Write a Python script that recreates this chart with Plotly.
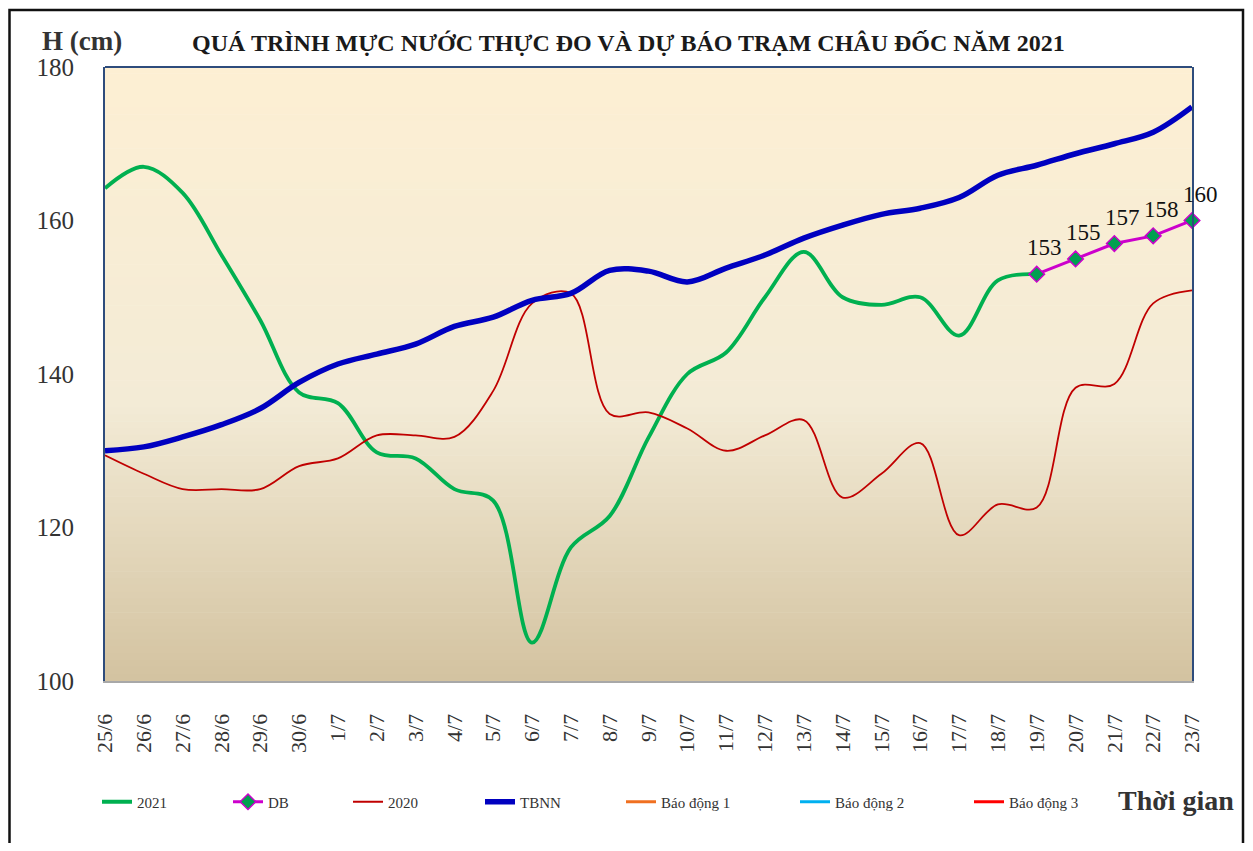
import plotly.graph_objects as go

dates = ["25/6", "26/6", "27/6", "28/6", "29/6", "30/6", "1/7", "2/7", "3/7", "4/7",
         "5/7", "6/7", "7/7", "8/7", "9/7", "10/7", "11/7", "12/7", "13/7", "14/7",
         "15/7", "16/7", "17/7", "18/7", "19/7", "20/7", "21/7", "22/7", "23/7"]

h2021 = [164.2, 167.0, 163.6, 155.5, 147.0, 137.6, 136.2, 129.8, 129.0, 125.0,
         123.5, 105.0, 117.4, 121.5, 131.7, 140.0, 142.8, 150.0, 155.9, 150.0,
         149.0, 150.0, 145.0, 152.2, 153.0, None, None, None, None]

db = [None] * 24 + [153, 155, 157, 158, 160]

h2020 = [129.4, 127.0, 125.0, 125.0, 125.0, 128.0, 129.0, 132.0, 132.0, 131.8,
         137.8, 149.2, 150.5, 134.8, 135.0, 132.9, 130.0, 132.0, 134.0, 123.9,
         127.0, 131.0, 119.0, 123.0, 122.6, 138.2, 138.7, 149.2, 150.9]

tbnn = [130.0, 130.5, 131.8, 133.4, 135.5, 138.9, 141.3, 142.6, 143.9, 146.2,
        147.4, 149.6, 150.5, 153.5, 153.4, 152.0, 153.8, 155.5, 157.7, 159.4,
        160.8, 161.6, 163.0, 165.9, 167.2, 168.7, 170.0, 171.5, 174.8]

# Alarm levels at Chau Doc (off the visible scale)
bd1 = [350] * len(dates)
bd2 = [400] * len(dates)
bd3 = [450] * len(dates)

SERIF = "Liberation Serif"

# page has an 8px body margin; work in screen pixels of the 1253x851 window
OFF = 8
PLOT_L, PLOT_R, PLOT_T, PLOT_B = 105, 1192, 67, 681
PW, PH = PLOT_R - PLOT_L, PLOT_B - PLOT_T
W, H = 1253 - 2 * OFF, 851 - 2 * OFF
L, T = PLOT_L - OFF, PLOT_T - OFF
R = W - L - PW
B = H - T - PH


def px_x(px):
    return (px - PLOT_L) / PW


def px_y(py):
    return (PLOT_B - py) / PH


fig = go.Figure()

fig.add_trace(go.Scatter(x=dates, y=h2021, name="2021", mode="lines",
                         line=dict(color="#00B050", width=3.8, shape="spline", smoothing=1),
                         legend="legend2"))
fig.add_trace(go.Scatter(x=dates, y=db, name="DB", mode="lines+markers",
                         line=dict(color="#CC00CC", width=3),
                         marker=dict(symbol="diamond", size=12, color="#00A050",
                                     line=dict(color="#CC00CC", width=1.5)),
                         cliponaxis=False, legend="legend3"))
fig.add_trace(go.Scatter(x=dates, y=h2020, name="2020", mode="lines",
                         line=dict(color="#C00000", width=1.8, shape="spline", smoothing=1),
                         legend="legend4"))
fig.add_trace(go.Scatter(x=dates, y=tbnn, name="TBNN", mode="lines",
                         line=dict(color="#0000C0", width=5.5, shape="spline", smoothing=1),
                         legend="legend5"))
fig.add_trace(go.Scatter(x=dates, y=bd1, name="Báo động 1", mode="lines",
                         line=dict(color="#F07020", width=3), legend="legend6"))
fig.add_trace(go.Scatter(x=dates, y=bd2, name="Báo động 2", mode="lines",
                         line=dict(color="#00B0F0", width=3), legend="legend7"))
fig.add_trace(go.Scatter(x=dates, y=bd3, name="Báo động 3", mode="lines",
                         line=dict(color="#FF0000", width=3), legend="legend8"))


# Gradient background bands
def lerp(c1, c2, t):
    return tuple(int(round(a + (b - a) * t)) for a, b in zip(c1, c2))


stops = [(0.0, (253, 239, 211)), (0.55, (243, 235, 214)), (1.0, (211, 195, 160))]
n = 90
shapes = []
for i in range(n):
    f = (i + 0.5) / n  # fraction from top
    c = stops[-1][1]
    for j in range(len(stops) - 1):
        if stops[j][0] <= f <= stops[j + 1][0]:
            t = (f - stops[j][0]) / (stops[j + 1][0] - stops[j][0])
            c = lerp(stops[j][1], stops[j + 1][1], t)
            break
    shapes.append(dict(type="rect", xref="paper", yref="paper", x0=0, x1=1,
                       y0=1 - (i + 1) / n, y1=1 - i / n + 0.001, layer="below",
                       line=dict(width=0), fillcolor="rgb(%d,%d,%d)" % c))

# top border of plot area
shapes.append(dict(type="line", xref="paper", yref="paper", x0=0, x1=1, y0=1, y1=1,
                   line=dict(color="#2E4C7C", width=2)))
# outer frame
shapes.append(dict(type="rect", xref="paper", yref="paper",
                   x0=px_x(9.5), x1=px_x(1243), y0=px_y(870), y1=px_y(10),
                   line=dict(color="#111111", width=2.5)))

legend_text_px = [137, 268, 388, 520, 661, 835, 1009]
legends = {}
for i, tx in enumerate(legend_text_px):
    key = "legend%d" % (i + 2)
    legends[key] = dict(x=px_x(tx - 40), y=px_y(802), xanchor="left", yanchor="middle",
                        orientation="h", bgcolor="rgba(0,0,0,0)",
                        font=dict(family=SERIF, size=15, color="#333333"))

annotations = [
    dict(text="<b>QUÁ TRÌNH MỰC NƯỚC THỰC ĐO VÀ DỰ BÁO TRẠM CHÂU ĐỐC NĂM 2021</b>",
         xref="paper", yref="paper", x=px_x(628), y=px_y(43), showarrow=False,
         xanchor="center", yanchor="middle", font=dict(family=SERIF, size=24, color="#1a1a1a")),
    dict(text="<b>H (cm)</b>", xref="paper", yref="paper", x=px_x(82), y=px_y(41),
         showarrow=False, xanchor="center", yanchor="middle",
         font=dict(family=SERIF, size=27, color="#333333")),
    dict(text="<b>Thời gian</b>", xref="paper", yref="paper", x=px_x(1176), y=px_y(800),
         showarrow=False, xanchor="center", yanchor="middle",
         font=dict(family=SERIF, size=28, color="#333333")),
]

# data labels for the forecast points
for d, v in zip(dates, db):
    if v is None:
        continue
    annotations.append(dict(x=d, y=v, xref="x", yref="y", text=str(v), showarrow=False,
                            xanchor="center", yanchor="bottom", xshift=8, yshift=12,
                            font=dict(family=SERIF, size=23, color="#111111")))

fig.update_layout(
    width=W, height=H,
    margin=dict(l=L, r=R, t=T, b=B),
    paper_bgcolor="white", plot_bgcolor="rgba(0,0,0,0)",
    showlegend=True,
    shapes=shapes, annotations=annotations,
    **legends,
    xaxis=dict(type="category", categoryorder="array", categoryarray=dates,
               range=[0, len(dates) - 1], showgrid=False, zeroline=False,
               showline=True, linecolor="#A8A8A8", linewidth=2,
               tickangle=-90, ticks="", ticklabelstandoff=22,
               tickfont=dict(family=SERIF, size=22, color="#333333")),
    yaxis=dict(range=[100, 180], dtick=20, showgrid=False, zeroline=False,
               showline=True, mirror=True, linecolor="#2E4C7C", linewidth=2,
               ticks="", ticklabelstandoff=24,
               tickfont=dict(family=SERIF, size=25, color="#333333")),
)

fig.write_html("out.html")
